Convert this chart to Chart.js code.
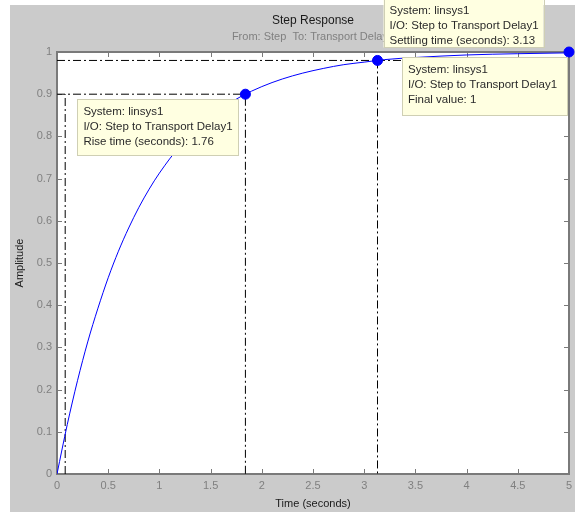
<!DOCTYPE html>
<html>
<head>
<meta charset="utf-8">
<script src="https://cdn.jsdelivr.net/npm/chart.js@4.4.1/dist/chart.umd.min.js"></script>
<style>
  html, body { margin: 0; padding: 0; background: #fff; }
  #wrap { width: 575px; height: 512px; }
</style>
</head>
<body>
<div id="wrap"><canvas id="chart" width="575" height="512"></canvas></div>
<script>
// step response samples
const timeS = [0, 0.1, 0.2, 0.3, 0.4, 0.5, 0.6, 0.7, 0.8, 0.9, 1.0, 1.2, 1.4, 1.6, 1.8, 2.0,
  2.2, 2.4, 2.6, 2.8, 3.0, 3.2, 3.5, 4.0, 4.5, 5.0];
const amplitude = [0, 0.117, 0.221, 0.313, 0.393, 0.465, 0.528, 0.583, 0.632, 0.675, 0.713,
  0.777, 0.826, 0.865, 0.895, 0.918, 0.936, 0.950, 0.961, 0.970, 0.976, 0.982, 0.987, 0.993,
  0.996, 0.998];

// characteristic markers: rise (90%), settling, final value
const markerT = [1.84, 3.13, 5];
const markerY = [0.9, 0.98, 1];

// dash-dot guide lines (null breaks the line)
const riseGuideT = [0.08, 0.08, null, 0, 1.84, 1.84];
const riseGuideY = [0, 0.9, null, 0.9, 0.9, 0];
const settleGuideT = [0, 5, null, 3.13, 3.13];
const settleGuideY = [0.98, 0.98, null, 0.98, 0];

const xTicks = [0, 0.5, 1, 1.5, 2, 2.5, 3, 3.5, 4, 4.5, 5];
const yTicks = [0, 0.1, 0.2, 0.3, 0.4, 0.5, 0.6, 0.7, 0.8, 0.9, 1];

const tipTexts = [
  ["System: linsys1", "I/O: Step to Transport Delay1", "Rise time (seconds): 1.76"],
  ["System: linsys1", "I/O: Step to Transport Delay1", "Settling time (seconds): 3.13"],
  ["System: linsys1", "I/O: Step to Transport Delay1", "Final value: 1"],
];

const FONT = "'Liberation Sans', Arial, sans-serif";
const pts = (xs, ys) => xs.map((x, i) => ({ x: x === null ? 0 : x, y: ys[i] }));

const backdrop = {
  id: "backdrop",
  beforeDraw(chart) {
    const { ctx, chartArea: a } = chart;
    ctx.save();
    ctx.fillStyle = "#fff";
    ctx.fillRect(0, 0, chart.width, chart.height);
    ctx.fillStyle = "#cbcbcb";
    ctx.fillRect(10, 5, chart.width - 10, chart.height - 5);
    ctx.fillStyle = "#fff";
    ctx.fillRect(a.left, a.top, a.right - a.left, a.bottom - a.top);
    ctx.restore();
  },
};

// axes box with inward ticks on all four sides
const frame = {
  id: "frame",
  beforeDatasetsDraw(chart) {
    const { ctx, chartArea: a, scales } = chart;
    ctx.save();
    ctx.strokeStyle = "#7a7a7a";
    ctx.lineWidth = 1;
    ctx.beginPath();
    scales.x.ticks.forEach((t) => {
      const px = Math.round(scales.x.getPixelForValue(t.value)) + 0.5;
      ctx.moveTo(px, a.bottom); ctx.lineTo(px, a.bottom - 5);
      ctx.moveTo(px, a.top); ctx.lineTo(px, a.top + 5);
    });
    scales.y.ticks.forEach((t) => {
      const py = Math.round(scales.y.getPixelForValue(t.value)) + 0.5;
      ctx.moveTo(a.left, py); ctx.lineTo(a.left + 5, py);
      ctx.moveTo(a.right, py); ctx.lineTo(a.right - 5, py);
    });
    ctx.stroke();
    ctx.lineWidth = 2;
    ctx.strokeRect(a.left, a.top, a.right - a.left, a.bottom - a.top);
    ctx.restore();
  },
};

// yellow datatips next to each marker
const datatips = {
  id: "datatips",
  afterDatasetsDraw(chart) {
    const { ctx } = chart;
    const meta = chart.getDatasetMeta(0);
    // box placement relative to the marker: [dx, dy, width, height, anchor]
    const place = [
      [-7, 5, 161, 56, "right-top"],
      [6, -13, 160, 50, "left-bottom"],
      [-2, 5, 165, 58, "right-top"],
    ];
    ctx.save();
    ctx.font = "11.5px " + FONT;
    ctx.textBaseline = "middle";
    meta.data.forEach((pt, i) => {
      const [dx, dy, w, h, anchor] = place[i];
      const x = anchor.startsWith("right") ? pt.x + dx - w : pt.x + dx;
      const y = anchor.endsWith("top") ? pt.y + dy : pt.y + dy - h;
      ctx.fillStyle = "#ffffe1";
      ctx.fillRect(x, y, w, h);
      ctx.strokeStyle = "#cfcfb4";
      ctx.lineWidth = 1;
      ctx.strokeRect(Math.round(x) + 0.5, Math.round(y) + 0.5, w, h);
      ctx.fillStyle = "#2a2a2a";
      tipTexts[i].forEach((line, k) => ctx.fillText(line, x + 6, y + 13 + k * 15));
    });
    ctx.restore();
  },
};

const dashed = { borderColor: "#000", borderWidth: 1, borderDash: [8, 3, 2, 3],
  pointRadius: 0, showLine: true, spanGaps: false, order: 2 };

new Chart(document.getElementById("chart"), {
  type: "scatter",
  data: {
    datasets: [
      { label: "markers", data: pts(markerT, markerY), pointRadius: 5, pointHoverRadius: 5,
        backgroundColor: "#0000ff", borderColor: "#0000ff", clip: false, order: 0 },
      { label: "step", data: pts(timeS, amplitude), showLine: true, borderColor: "#0000ff",
        borderWidth: 1, pointRadius: 0, cubicInterpolationMode: "monotone", order: 1 },
      { label: "rise", data: pts(riseGuideT, riseGuideY), ...dashed },
      { label: "settle", data: pts(settleGuideT, settleGuideY), ...dashed },
    ],
  },
  options: {
    responsive: false,
    animation: false,
    events: [],
    layout: { padding: { left: 10, top: 5, right: 5, bottom: 0 } },
    plugins: {
      legend: { display: false },
      tooltip: { enabled: false },
      title: {
        display: true, text: "Step Response", fullSize: false, color: "#1a1a1a",
        font: { family: FONT, size: 12, weight: "normal" }, padding: { top: 8, bottom: 3 },
      },
      subtitle: {
        display: true, text: "From: Step  To: Transport Delay1", fullSize: false, color: "#808080",
        font: { family: FONT, size: 11 }, padding: { top: 0, bottom: 8.4 },
      },
    },
    scales: {
      x: {
        type: "linear", min: 0, max: 5,
        afterBuildTicks: (s) => { s.ticks = xTicks.map((v) => ({ value: v })); },
        afterFit: (s) => { s.height = 38; s.paddingLeft = 0; s.paddingRight = 0; },
        grid: { display: false, drawTicks: false },
        border: { display: false },
        ticks: { color: "#808080", font: { family: FONT, size: 11 }, padding: 5,
          maxRotation: 0, autoSkip: false, callback: (v) => String(+v.toFixed(2)) },
        title: { display: true, text: "Time (seconds)", color: "#1a1a1a",
          font: { family: FONT, size: 11 }, padding: { top: 0, bottom: 1.5 } },
      },
      y: {
        type: "linear", min: 0, max: 1,
        afterBuildTicks: (s) => { s.ticks = yTicks.map((v) => ({ value: v })); },
        afterFit: (s) => { s.width = 47; },
        grid: { display: false, drawTicks: false },
        border: { display: false },
        ticks: { color: "#808080", font: { family: FONT, size: 11 }, padding: 5,
          autoSkip: false, callback: (v) => String(+v.toFixed(2)) },
        title: { display: true, text: "Amplitude", color: "#1a1a1a",
          font: { family: FONT, size: 11 }, padding: { top: 3.4, bottom: 0 } },
      },
    },
  },
  plugins: [backdrop, frame, datatips],
});
</script>
</body>
</html>
